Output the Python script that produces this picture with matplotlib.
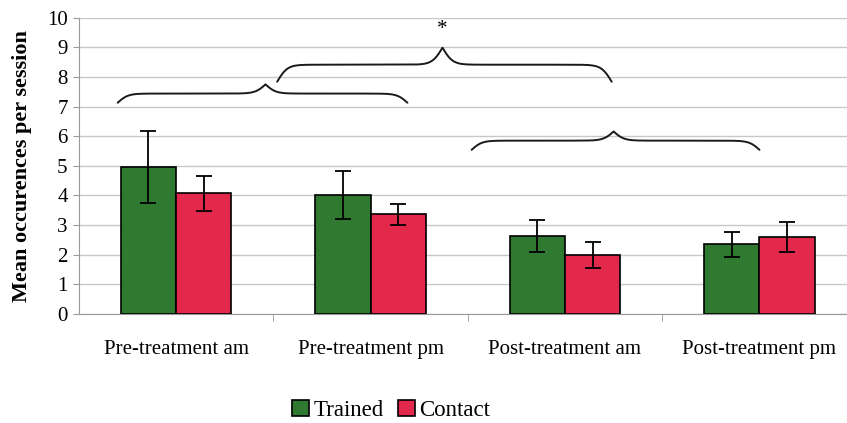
import numpy as np
import matplotlib.pyplot as plt
from matplotlib.patches import Patch

plt.rcParams['font.family'] = ['Liberation Serif', 'DejaVu Serif']

categories = ['Pre-treatment am', 'Pre-treatment pm', 'Post-treatment am', 'Post-treatment pm']
trained = [4.95, 4.02, 2.63, 2.35]
trained_err = [1.22, 0.80, 0.55, 0.43]
contact = [4.07, 3.36, 1.99, 2.60]
contact_err = [0.58, 0.36, 0.45, 0.50]

green = '#2f7a30'
red = '#e2294c'


def half(a, b, beta):
    t = np.linspace(a, b, 300)
    f = 1 / (1 + np.exp(-beta * (t - a))) + 1 / (1 + np.exp(-beta * (t - b)))
    return t, f - 0.5


def brace(ax, x0, x1, y, tip, h, beta=38):
    # curly brace with ends at height y and point at y + h
    tl, fl = half(x0, tip, beta)
    tr, fr = half(tip, x1, beta)
    xs = np.concatenate([tl, tr])
    ys = np.concatenate([y + h * fl, y + h * fr[::-1]])
    ax.plot(xs, ys, color='#1a1a1a', lw=1.4, solid_capstyle='round', zorder=4)


fig = plt.figure(figsize=(8.47, 4.23), dpi=100)
ax = fig.add_axes([0.093, 0.258, 0.907, 0.7])

x = np.arange(len(categories))
w = 0.285
ekw = dict(ecolor='black', elinewidth=1.3, capsize=5.5, capthick=1.3)
ax.bar(x - w / 2, trained, w, yerr=trained_err, color=green, edgecolor='black',
       lw=1.2, label='Trained', zorder=3, error_kw=ekw)
ax.bar(x + w / 2, contact, w, yerr=contact_err, color=red, edgecolor='black',
       lw=1.2, label='Contact', zorder=3, error_kw=ekw)

ax.set_xlim(-0.5, 3.45)
ax.set_ylim(0, 10)
ax.set_yticks(range(11))
ax.grid(axis='y', color='#c8c8c8', lw=1)
ax.set_axisbelow(True)

ax.set_xticks(x)
ax.set_xticklabels(categories, fontsize=15)
ax.set_xticks([0.5, 1.5, 2.5], minor=True)
ax.tick_params(axis='x', which='major', length=0, pad=19)
ax.tick_params(axis='x', which='minor', length=5, color='#999999')
ax.tick_params(axis='y', labelsize=15, length=4, color='#999999', pad=4)

for s in ['top', 'right']:
    ax.spines[s].set_visible(False)
ax.spines['left'].set_color('#999999')
ax.spines['bottom'].set_color('#999999')

ax.set_ylabel('Mean occurences per session', fontsize=16, fontweight='bold', labelpad=11)

# comparison braces
brace(ax, -0.30, 1.19, 7.13, 0.46, 0.62)
brace(ax, 0.52, 2.24, 7.84, 1.37, 1.15)
brace(ax, 1.52, 3.00, 5.54, 2.25, 0.62)
ax.text(1.37, 9.6, '*', ha='center', va='center', fontsize=15)

handles = [Patch(facecolor=green, edgecolor='black', lw=1.2),
           Patch(facecolor=red, edgecolor='black', lw=1.2)]
fig.legend(handles, ['Trained', 'Contact'], loc='center', bbox_to_anchor=(0.462, 0.03),
           ncol=2, frameon=False, fontsize=16.5, handlelength=0.75, handleheight=0.75,
           handletextpad=0.2, columnspacing=0.6)

fig.savefig('out.png', dpi=100)
